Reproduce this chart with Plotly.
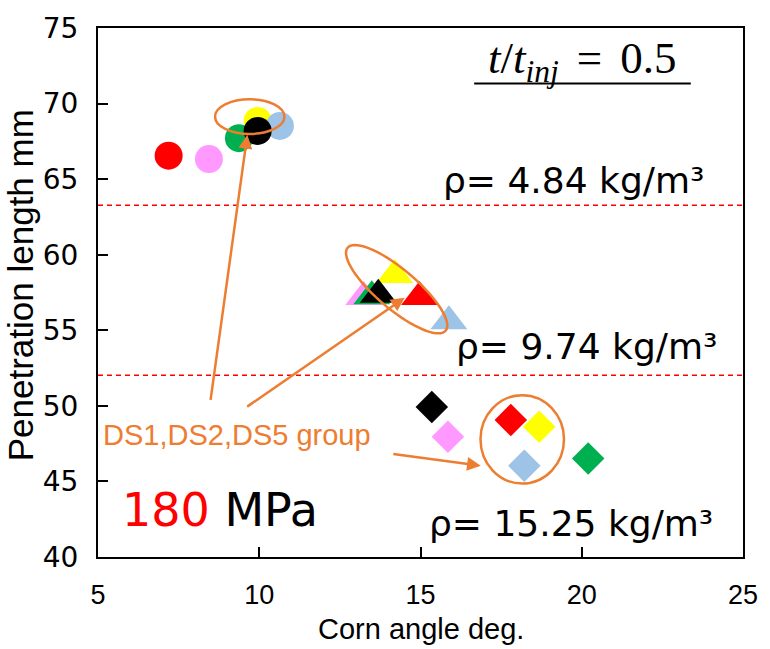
import math
import plotly.graph_objects as go

# ---------------- data ----------------
colors = ["#FF0000", "#FF99FF", "#00B050", "#FFFF00", "#9DC3E6", "#000000"]
names = ["red", "pink", "green", "yellow", "light blue", "black"]

# rho = 4.84 kg/m3  (circles)
circ_x = [7.19, 8.44, 9.37, 9.95, 10.64, 9.95]
circ_y = [66.55, 66.33, 67.71, 68.85, 68.52, 68.19]
# rho = 9.74 kg/m3  (triangles)
tri_x = [14.97, 13.24, 13.49, 14.20, 15.88, 13.69]
tri_y = [57.20, 57.20, 57.25, 58.65, 55.60, 57.35]
# rho = 15.25 kg/m3 (diamonds)
dia_x = [17.80, 15.85, 20.20, 18.68, 18.22, 15.35]
dia_y = [49.06, 47.95, 46.52, 48.62, 46.04, 49.92]

rho_values = ["4.84", "9.74", "15.25"]
rho_lines = [63.27, 52.02]
x_ticks = [5, 10, 15, 20, 25]
y_ticks = [40, 45, 50, 55, 60, 65, 70, 75]

# ---------------- layout constants ----------------
W, H = 770, 649
ML, MR, MT, MB = 98, 17, 24, 92
XR = [5, 25]
YR = [40, 75]
PW, PH = W - ML - MR, H - MT - MB
px_per_x = PW / (XR[1] - XR[0])
px_per_y = PH / (YR[1] - YR[0])
ORANGE = "#ED7D31"

fig = go.Figure()

for i in range(len(colors)):
    fig.add_trace(go.Scatter(
        x=[circ_x[i], tri_x[i], dia_x[i]],
        y=[circ_y[i], tri_y[i], dia_y[i]],
        mode="markers",
        name=names[i],
        marker=dict(symbol=["circle", "triangle-up", "diamond"],
                    size=[28, 32, 25], color=colors[i], opacity=1,
                    line=dict(width=0)),
        showlegend=False,
    ))

shapes = []
for yv in rho_lines:
    shapes.append(dict(type="line", xref="paper", yref="y", x0=0, x1=1, y0=yv, y1=yv,
                       line=dict(color="#FF0000", width=1.5, dash="5px,4px")))

# group ellipses
shapes.append(dict(type="circle", xref="x", yref="y", x0=8.63, x1=10.78, y0=67.99, y1=70.28,
                   line=dict(color=ORANGE, width=2.5)))
shapes.append(dict(type="circle", xref="x", yref="y", x0=16.86, x1=19.45, y0=44.86, y1=50.71,
                   line=dict(color=ORANGE, width=2.5)))
# tilted ellipse around triangles (semi axes in pixels, rotation in screen degrees)
cx, cy, a_px, b_px, ang = 14.26, 57.72, 65, 20, 40
th = math.radians(ang)
pts = []
for k in range(73):
    t = 2 * math.pi * k / 72
    dx = a_px * math.cos(t) * math.cos(th) - b_px * math.sin(t) * math.sin(th)
    dy = a_px * math.cos(t) * math.sin(th) + b_px * math.sin(t) * math.cos(th)
    pts.append((cx + dx / px_per_x, cy - dy / px_per_y))
path = "M " + " L ".join(f"{p[0]:.4f},{p[1]:.4f}" for p in pts) + " Z"
shapes.append(dict(type="path", xref="x", yref="y", path=path, line=dict(color=ORANGE, width=2.5)))

# underline of the time label (pixel position converted to paper)
shapes.append(dict(type="line", xref="paper", yref="paper",
                   x0=(480 - ML) / PW, x1=(700 - ML) / PW,
                   y0=(H - 80 - MB) / PH, y1=(H - 80 - MB) / PH,
                   line=dict(color="black", width=2)))

annotations = []
# arrows: tip in data coords, tail offset in pixels
arrows = [(9.63, 67.93, -37, 267), (14.51, 57.16, -159, 110), (16.87, 46.04, -89, -12)]
for (x, y, ax, ay) in arrows:
    annotations.append(dict(x=x, y=y, ax=ax, ay=ay, xref="x", yref="y", text=" ",
                            showarrow=True, arrowhead=2, arrowsize=1.1, arrowwidth=2.5,
                            arrowcolor=ORANGE, standoff=0, font=dict(size=1)))

annotations.append(dict(x=5.10, y=48.08, xref="x", yref="y", xanchor="left", yanchor="middle",
                        text="DS1,DS2,DS5 group", showarrow=False,
                        font=dict(family="Liberation Sans, Arial", size=29, color=ORANGE)))
annotations.append(dict(x=5.67, y=43.13, xref="x", yref="y", xanchor="left", yanchor="middle",
                        text="<span style='color:#FF0000'>180</span> MPa", showarrow=False,
                        font=dict(family="DejaVu Sans, Verdana", size=46, color="#000000")))
rho_pos = [(15.64, 64.9), (16.03, 53.9), (15.21, 42.2)]
for (x, y), v in zip(rho_pos, rho_values):
    annotations.append(dict(x=x, y=y, xref="x", yref="y", xanchor="left", yanchor="middle",
                            text=f"ρ= {v} kg/m³", showarrow=False,
                            font=dict(family="DejaVu Sans, Verdana", size=36, color="#000000")))

# pixel-positioned texts: (x_px, y_px from top, text, font, angle)
pix_texts = [
    (589, 57, "<i>t</i>/<i>t</i><sub><i>inj</i></sub>\u2009\u2009=\u2009\u20090.5",
     dict(family="Liberation Serif, DejaVu Serif", size=45, color="#000000"), 0),
    (ML + PW / 2, 630, "Corn angle deg.",
     dict(family="Liberation Sans, Arial", size=29, color="#000000"), 0),
    (19, 283, "Penetration length mm",
     dict(family="Liberation Sans, Arial", size=35, color="#000000"), -90),
]
for (xp, yp, txt, fnt, angl) in pix_texts:
    annotations.append(dict(x=(xp - ML) / PW, y=(H - yp - MB) / PH, xref="paper", yref="paper",
                            xanchor="center", yanchor="middle", showarrow=False,
                            text=txt, font=fnt, textangle=angl))

fig.update_layout(
    width=W, height=H,
    margin=dict(l=ML, r=MR, t=MT, b=MB, pad=0),
    paper_bgcolor="white", plot_bgcolor="white",
    shapes=shapes, annotations=annotations,
    showlegend=False,
    xaxis=dict(range=XR, tickvals=x_ticks, ticks="inside", ticklen=10, tickwidth=2,
               tickcolor="black", showline=True, linecolor="black", linewidth=2, mirror=True,
               showgrid=False, zeroline=False, ticklabelstandoff=13,
               tickfont=dict(family="Liberation Sans, Arial", size=27, color="black")),
    yaxis=dict(range=YR, tickvals=y_ticks, ticks="inside", ticklen=10, tickwidth=2,
               tickcolor="black", showline=True, linecolor="black", linewidth=2, mirror=True,
               showgrid=False, zeroline=False, ticklabelstandoff=12,
               tickfont=dict(family="DejaVu Sans, Verdana", size=28, color="black")),
)

fig.write_html("out.html")
